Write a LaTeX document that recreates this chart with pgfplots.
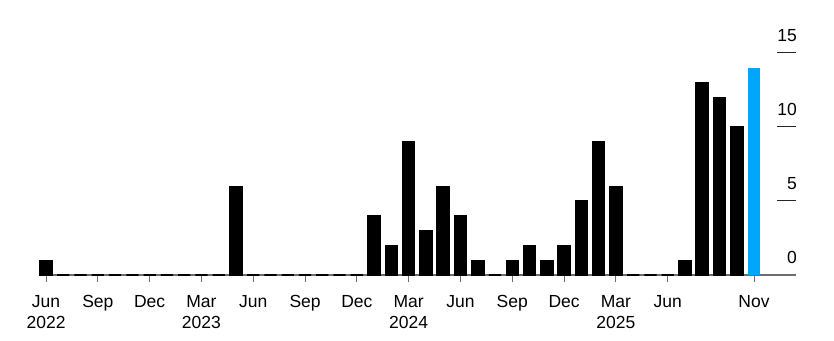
\documentclass[border=0pt]{standalone}
\usepackage{pgfplots}
\pgfplotsset{compat=1.18}
\usepackage{fontspec}
\setmainfont{Liberation Sans}
\definecolor{barblue}{RGB}{0,166,250}
\definecolor{basegray}{RGB}{110,110,110}
\begin{document}
\fontsize{17.5bp}{21bp}\selectfont
\begin{tikzpicture}
\useasboundingbox (-40bp,-66bp) rectangle (794bp,275bp);
\begin{axis}[
  at={(0,0)}, anchor=south west,
  scale only axis,
  width=756bp, height=222bp,
  xmin=-0.35, xmax=43.43,
  ymin=0, ymax=15,
  clip=false,
  axis x line*=bottom,
  axis y line*=right,
  y axis line style={draw=none},
  x axis line style={draw=basegray, line width=1.2bp},
  xtick={0,3,6,9,12,15,18,21,24,27,30,33,36,41},
  xticklabels={Jun\\2022,Sep,Dec,Mar\\2023,Jun,Sep,Dec,Mar\\2024,Jun,Sep,Dec,Mar\\2025,Jun,Nov},
  xticklabel style={align=center, font=\fontsize{17.5bp}{21bp}\selectfont, inner sep=0pt, yshift=-1bp},
  x tick style={draw=basegray, line width=1bp},
  xtick align=outside,
  ytick={0,5,10,15},
  ytick align=inside,
  y tick style={draw=black!85, line width=1bp},
  major tick length=19bp,
  yticklabel style={anchor=south east, inner sep=0pt, xshift=1bp, yshift=11bp, font=\fontsize{17.5bp}{21bp}\selectfont},
  /pgf/number format/assume math mode=true,
  tick label style={text=black},
]
\pgfplotsset{x tick style={/pgfplots/major tick length=7bp}}
\addplot[ybar, bar width=0.71, bar shift=0pt, fill=black, draw=black, line width=1.3bp] coordinates {
(0,1) (1,0) (2,0) (3,0) (4,0) (5,0) (6,0) (7,0) (8,0) (9,0) (10,0)
(11,6) (12,0) (13,0) (14,0) (15,0) (16,0) (17,0) (18,0)
(19,4) (20,2) (21,9) (22,3) (23,6) (24,4) (25,1) (26,0) (27,1) (28,2) (29,1) (30,2)
(31,5) (32,9) (33,6) (34,0) (35,0) (36,0) (37,1) (38,13) (39,12) (40,10)
};
\addplot[ybar, bar width=0.71, bar shift=0pt, fill=barblue, draw=none] coordinates {(41,14)};
\end{axis}
\end{tikzpicture}
\end{document}
